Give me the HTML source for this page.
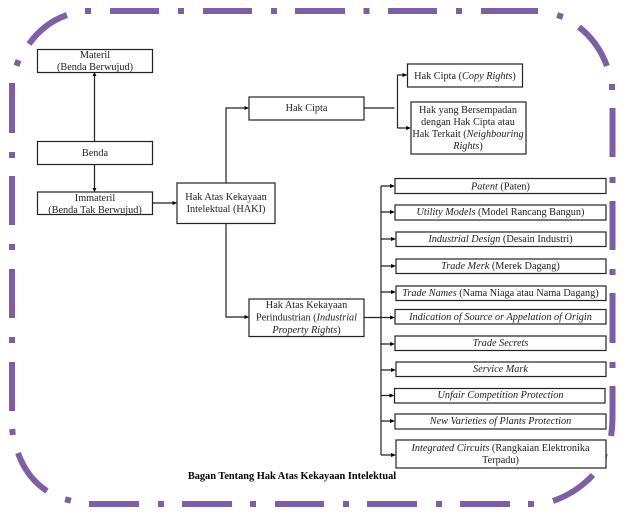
<!DOCTYPE html>
<html><head><meta charset="utf-8"><style>
html,body{margin:0;padding:0;background:#fff;width:628px;height:527px;overflow:hidden}
svg{display:block;position:absolute;left:0;top:0;filter:blur(.3px)}
text{font-family:"Liberation Serif",serif;font-size:10.25px;fill:#222;text-anchor:middle}
.i{font-style:italic}
.b rect{fill:#fff;stroke:#222;stroke-width:1.2}
.l path{fill:none;stroke:#222;stroke-width:1.2}
.a polygon{fill:#000}
.p rect{fill:#7e5fa3}
.p path{fill:none;stroke:#7e5fa3;stroke-width:6}
</style></head><body>
<svg width="628" height="527" viewBox="0 0 628 527">
<g class="p">
<rect x="85" y="8" width="6" height="6"/><rect x="110" y="8" width="49" height="6"/><rect x="178" y="8" width="6" height="6"/><rect x="203" y="8" width="49" height="6"/><rect x="271" y="8" width="6" height="6"/><rect x="295" y="8" width="50" height="6"/><rect x="363.500" y="8" width="6" height="6"/><rect x="388" y="8" width="49" height="6"/><rect x="456" y="8" width="6" height="6"/><rect x="481" y="8" width="57" height="6"/>
<rect x="557" y="13" width="6" height="6" transform="rotate(18 560 16)"/>
<path d="M579 27Q598 42 607 66"/>
<rect x="609" y="84" width="6" height="6"/>
<rect x="609.500" y="108" width="6" height="49"/><rect x="609.500" y="177" width="6" height="6"/><rect x="609.500" y="201" width="6" height="49"/><rect x="609.500" y="269" width="6" height="6"/><rect x="609.500" y="293" width="6" height="50"/><rect x="609.500" y="362" width="6" height="6"/>
<path d="M612.500 386V415Q612.500 427 611 436"/>
<path d="M593 475Q576 493 553 501"/>
<rect x="604" y="454" width="3" height="6" transform="rotate(15 606 457)"/>
<rect x="528" y="501" width="6" height="6"/><rect x="460" y="501" width="50" height="6"/><rect x="436" y="501" width="6" height="6"/><rect x="367" y="501" width="50" height="6"/><rect x="343" y="501" width="6" height="6"/><rect x="275" y="501" width="49" height="6"/><rect x="250" y="501" width="6" height="6"/><rect x="182" y="501" width="50" height="6"/><rect x="158" y="501" width="6" height="6"/><rect x="89" y="501" width="50" height="6"/>
<rect x="65" y="497" width="6" height="6" transform="rotate(15 68 500)"/>
<path d="M47 491Q27 478 18 453"/>
<rect x="9.500" y="429" width="6" height="6" transform="rotate(-5 12.500 432)"/>
<rect x="9" y="362" width="6" height="49"/><rect x="9" y="337" width="6" height="6"/><rect x="9" y="269" width="6" height="49"/><rect x="9" y="244" width="6" height="6"/><rect x="9" y="176" width="6" height="49"/><rect x="9" y="152" width="6" height="6"/><rect x="9" y="83" width="6" height="50"/>
<rect x="14.500" y="60" width="6" height="6" transform="rotate(20 17.500 63)"/>
<path d="M29 44Q44 23 67 15"/>
</g>
<g class="l">
<path d="M94.500 141V74M94.500 164V190M152 203H175M226 183V108H247M226 223V317H247M364 108H394.500M397.500 75V128M397.500 75H405M397.500 128H409M364 317.500H393M381 186V455M381 186H393M381 212H393M381 239H394M381 266H394M381 292H394M381 344H393M381 370H394M381 395.500H393M381 421H393M381 455H394"/>
</g>
<g class="a">
<polygon points="94.500,72 92.500,76 96.500,76"/><polygon points="94.500,192 92.500,188 96.500,188"/><polygon points="177,203 172.500,201 172.500,205"/>
<polygon points="249,108 244.500,106 244.500,110"/><polygon points="249,317 244.500,315 244.500,319"/>
<polygon points="407.500,75 402.500,73 402.500,77"/><polygon points="411,128 406,126 406,130"/>
<polygon points="395,186 390,184 390,188"/><polygon points="395,212 390,210 390,214"/><polygon points="396,239 391,237 391,241"/><polygon points="396,266 391,264 391,268"/><polygon points="396,292 391,290 391,294"/><polygon points="395,317.500 390,315.500 390,319.500"/><polygon points="395,344 390,342 390,346"/><polygon points="396,370 391,368 391,372"/><polygon points="394.500,395.500 389.500,393.500 389.500,397.500"/><polygon points="395,421 390,419 390,423"/><polygon points="396,455 391,453 391,457"/>
</g>
<g class="b">
<rect x="37.500" y="49.500" width="115" height="23"/><rect x="37.500" y="141.500" width="115" height="23"/><rect x="37.500" y="192" width="115" height="22.500"/>
<rect x="177" y="183" width="98" height="40.500"/><rect x="249" y="97" width="115" height="23"/><rect x="407.500" y="64" width="115" height="23"/><rect x="411" y="102" width="115" height="52"/>
<rect x="249" y="299" width="115" height="37.500"/>
<rect x="395" y="178.500" width="211" height="15"/><rect x="395" y="205" width="211" height="15"/><rect x="396" y="232" width="210" height="14.500"/><rect x="396" y="259" width="210" height="14.500"/><rect x="396" y="286" width="210" height="14.500"/><rect x="395" y="309.500" width="211" height="14.500"/><rect x="395" y="336" width="211" height="14.500"/><rect x="396" y="362" width="210" height="14.500"/><rect x="394.500" y="388.500" width="210.500" height="14.500"/><rect x="395" y="414" width="211" height="15"/><rect x="396" y="440" width="210" height="28"/>
</g>
<text x="95" y="58">Materil</text><text x="95" y="70">(Benda Berwujud)</text>
<text x="95" y="156">Benda</text>
<text x="95" y="201">Immateril</text><text x="95" y="213">(Benda Tak Berwujud)</text>
<text x="226" y="200">Hak Atas Kekayaan</text><text x="226" y="212">Intelektual (HAKI)</text>
<text x="306.500" y="111">Hak Cipta</text>
<text x="465" y="79">Hak Cipta (<tspan class="i">Copy Rights</tspan>)</text>
<text x="468" y="113">Hak yang Bersempadan</text><text x="468" y="125">dengan Hak Cipta atau</text><text x="468" y="137">Hak Terkait (<tspan class="i">Neighbouring</tspan></text><text x="468" y="149"><tspan class="i">Rights</tspan>)</text>
<text x="306.500" y="308">Hak Atas Kekayaan</text><text x="306.500" y="320.500">Perindustrian (<tspan class="i">Industrial</tspan></text><text x="306.500" y="333"><tspan class="i">Property Rights</tspan>)</text>
<text x="500.500" y="189.500"><tspan class="i">Patent</tspan> (Paten)</text>
<text x="500.500" y="215"><tspan class="i">Utility Models</tspan> (Model Rancang Bangun)</text>
<text x="500.500" y="242"><tspan class="i">Industrial Design</tspan> (Desain Industri)</text>
<text x="500.500" y="269"><tspan class="i">Trade Merk</tspan> (Merek Dagang)</text>
<text x="500.500" y="296"><tspan class="i">Trade Names</tspan> (Nama Niaga atau Nama Dagang)</text>
<text x="500.500" y="320" class="i">Indication of Source or Appelation of Origin</text>
<text x="500.500" y="346" class="i">Trade Secrets</text>
<text x="500.500" y="372" class="i">Service Mark</text>
<text x="500.500" y="398" class="i">Unfair Competition Protection</text>
<text x="500.500" y="424" class="i">New Varieties of Plants Protection</text>
<text x="500.500" y="451"><tspan class="i">Integrated Circuits</tspan> (Rangkaian Elektronika</text><text x="500.500" y="463">Terpadu)</text>
<text x="292" y="479" style="font-weight:bold;fill:#000;font-size:10.35px">Bagan Tentang Hak Atas Kekayaan Intelektual</text>
</svg>
</body></html>
